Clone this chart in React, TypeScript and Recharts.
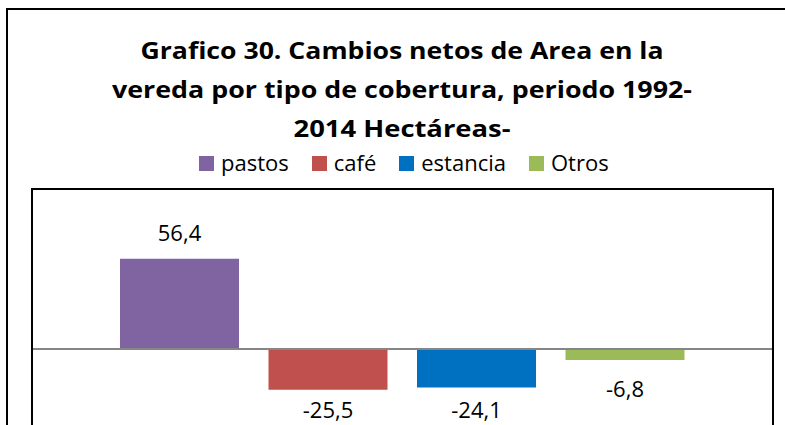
import React from 'react';
import { BarChart, Bar, XAxis, YAxis, ReferenceLine } from 'recharts';

// ---- data ----
const CATEGORIES = ['Cambio neto'];
const SERIES_KEYS = ['pastos', 'cafe', 'estancia', 'otros'];
const SERIES_NAMES = ['pastos', 'café', 'estancia', 'Otros'];
const pastos = [56.4];
const cafe = [-25.5];
const estancia = [-24.1];
const otros = [-6.8];
const TITLE_LINES = [
  'Grafico 30. Cambios netos de Area en la',
  'vereda por tipo de cobertura, periodo 1992-',
  '2014 Hectáreas-',
];
const Y_DOMAIN = [-60, 100];

// ---- styles ----
const COLORS = ['#8064A2', '#C0504D', '#0070C0', '#9BBB59'];
const LABEL_GAP = [18, 28, 30, 37];
const TITLE_WIDTHS = [523, 580, 217];
const TITLE_BASELINES = [59, 98, 137];
const FONT = "'Open Sans', 'Noto Sans', sans-serif";
const W = 785;
const H = 480;
const MARGIN = { top: 189, left: 32, right: 12, bottom: 35 };

const data = CATEGORIES.map((c, i) => ({
  name: c,
  pastos: pastos[i],
  cafe: cafe[i],
  estancia: estancia[i],
  otros: otros[i],
}));

const fmt = (v: number) => v.toFixed(1).replace('.', ',');

const makeLabel = (idx: number) => (props: any) => {
  const { x, y, width, height, value } = props;
  const top = Math.min(y, y + height);
  const bottom = Math.max(y, y + height);
  const cx = x + width / 2;
  const by = value >= 0 ? top - LABEL_GAP[idx] : bottom + LABEL_GAP[idx];
  return (
    <text x={cx} y={by} textAnchor="middle" fontFamily={FONT} fontSize={22} fill="#000">
      {fmt(Number(value))}
    </text>
  );
};

export default function App() {
  return (
    <div
      style={{
        position: 'absolute',
        left: 0,
        top: 0,
        width: W,
        height: 425,
        overflow: 'hidden',
        background: '#fff',
        fontFamily: FONT,
      }}
    >
      {/* outer chart border */}
      <div
        style={{
          position: 'absolute',
          left: 6,
          top: 8,
          width: 900,
          height: 600,
          border: '2px solid #000',
          boxSizing: 'border-box',
        }}
      />
      {/* title */}
      <svg style={{ position: 'absolute', left: 0, top: 0 }} width={W} height={145}>
        {TITLE_LINES.map((t, i) => (
          <text
            key={i}
            x={402}
            y={TITLE_BASELINES[i]}
            textAnchor="middle"
            fontFamily={FONT}
            fontWeight={700}
            fontSize={24}
            fill="#000"
            textLength={TITLE_WIDTHS[i]}
            lengthAdjust="spacingAndGlyphs"
          >
            {t}
          </text>
        ))}
      </svg>
      {/* legend */}
      <div
        style={{
          position: 'absolute',
          left: 199,
          top: 147,
          display: 'flex',
          alignItems: 'center',
          fontSize: 22,
          lineHeight: '30px',
          color: '#000',
          whiteSpace: 'nowrap',
        }}
      >
        {SERIES_NAMES.map((n, i) => (
          <div key={n} style={{ display: 'flex', alignItems: 'center', marginRight: 23 }}>
            <div
              style={{ width: 15, height: 15, background: COLORS[i], marginRight: 7, marginTop: 3 }}
            />
            <span>{n}</span>
          </div>
        ))}
      </div>
      {/* chart */}
      <div style={{ position: 'absolute', left: 0, top: 0 }}>
        <BarChart width={W} height={H} data={data} margin={MARGIN} barSize={119} barGap={29.5}>
          <XAxis dataKey="name" hide />
          <YAxis domain={Y_DOMAIN} hide />
          <ReferenceLine y={0} stroke="#868686" strokeWidth={2} />
          {SERIES_KEYS.map((k, i) => (
            <Bar
              key={k}
              dataKey={k}
              name={SERIES_NAMES[i]}
              fill={COLORS[i]}
              isAnimationActive={false}
              label={makeLabel(i)}
            />
          ))}
        </BarChart>
      </div>
      {/* plot area frame */}
      <div
        style={{
          position: 'absolute',
          left: MARGIN.left - 1,
          top: MARGIN.top - 1,
          width: W - MARGIN.left - MARGIN.right + 2,
          height: H - MARGIN.top - MARGIN.bottom + 2,
          border: '2px solid #000',
          boxSizing: 'border-box',
          pointerEvents: 'none',
        }}
      />
    </div>
  );
}
